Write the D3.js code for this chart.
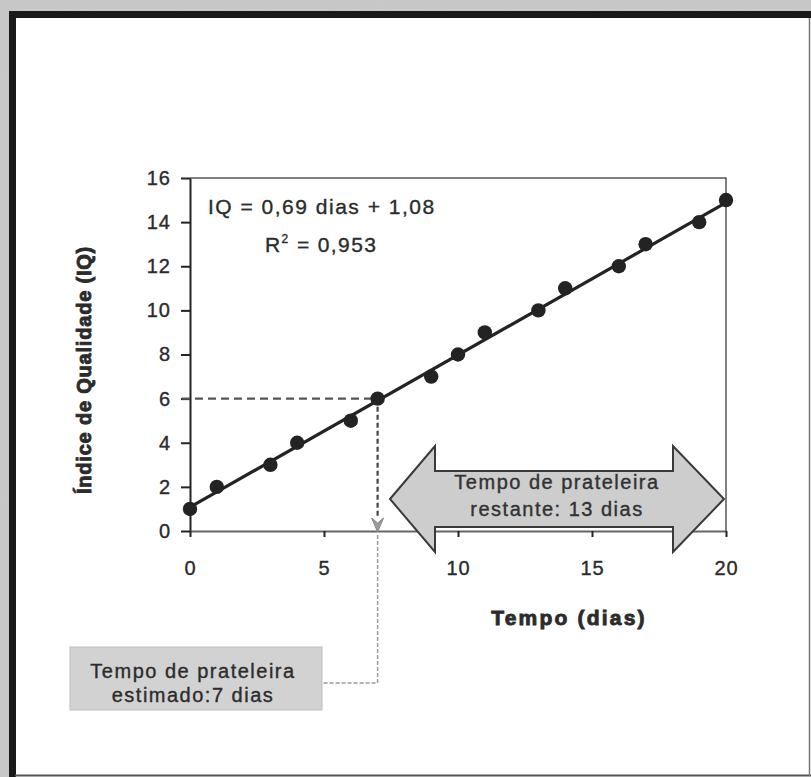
<!DOCTYPE html>
<html>
<head>
<meta charset="utf-8">
<script src="https://cdn.jsdelivr.net/npm/d3@7"></script>
<style>
  body { margin: 0; background: #c6c6c6; }
  svg { display: block; font-family: "Liberation Sans", Arial, sans-serif; }
</style>
</head>
<body>
<div id="chart"></div>
<script>
// data
var dias = [0, 1, 3, 4, 6, 7, 9, 10, 11, 13, 14, 16, 17, 19, 20]
var iq   = [1, 2, 3, 4, 5, 6, 7, 8, 9, 10, 11, 12, 13, 14, 15]
var xTicks = [0, 5, 10, 15, 20]
var yTicks = [0, 2, 4, 6, 8, 10, 12, 14, 16]
var slope = 0.69, intercept = 1.08
var estimado = 7, iqLimite = 6

var W = 811, H = 777

var svg = d3.select("#chart").append("svg")
    .attr("width", W).attr("height", H)

// speckled paper background
var defs = svg.append("defs")
var f = defs.append("filter").attr("id", "grain").attr("x", 0).attr("y", 0).attr("width", "100%").attr("height", "100%")
f.append("feTurbulence").attr("type", "fractalNoise").attr("baseFrequency", 0.9).attr("numOctaves", 2).attr("seed", 3)
f.append("feColorMatrix").attr("type", "matrix")
    .attr("values", "0 0 0 0 0.5  0 0 0 0 0.5  0 0 0 0 0.5  0 0 0 1.2 -0.35")
f.append("feComposite").attr("in2", "SourceGraphic").attr("operator", "in")

svg.append("rect").attr("width", W).attr("height", H).attr("fill", "#c9c9c9")
svg.append("rect").attr("width", W).attr("height", H).attr("fill", "#c9c9c9").attr("filter", "url(#grain)").attr("opacity", 0.5)

// white card with black frame
svg.append("rect").attr("x", 12.5).attr("y", 14.5).attr("width", 820).attr("height", 780)
    .attr("fill", "#fff").attr("stroke", "#1a1a1a").attr("stroke-width", 7)
svg.append("line").attr("x1", 15).attr("x2", W).attr("y1", 775.5).attr("y2", 775.5)
    .attr("stroke", "#555").attr("stroke-width", 2)
svg.append("line").attr("x1", 809.5).attr("x2", 809.5).attr("y1", 18).attr("y2", 776)
    .attr("stroke", "#777").attr("stroke-width", 1.5)

var x = d3.scaleLinear().domain([0, 20]).range([190, 726])
var y = d3.scaleLinear().domain([0, 16]).range([531, 178])

var ink = "#232323"
var txt = "#2b2b2b"

// helper for the slightly heavy, wide scanned lettering
function label(sel, size, spacing, bold) {
    return sel.style("font-size", size + "px")
        .style("letter-spacing", spacing + "px")
        .style("font-weight", bold ? "bold" : "normal")
        .attr("fill", txt).attr("stroke", txt).attr("stroke-width", bold ? 0.9 : 0.35)
}

// plot border (top / right)
svg.append("path")
    .attr("d", "M" + x(0) + "," + y(16) + "H" + x(20) + "V" + y(0))
    .attr("fill", "none").attr("stroke", "#555").attr("stroke-width", 1.5)

// axes
var gy = svg.append("g").attr("transform", "translate(" + x(0) + ",0)")
    .call(d3.axisLeft(y).tickValues(yTicks).tickSize(9).tickPadding(10).tickSizeOuter(0))
var gx = svg.append("g").attr("transform", "translate(0," + y(0) + ")")
    .call(d3.axisBottom(x).tickValues(xTicks).tickSize(6).tickPadding(24).tickSizeOuter(0))
;[gx, gy].forEach(function(g){
    g.select(".domain").attr("stroke", ink).attr("stroke-width", 2)
    g.selectAll(".tick line").attr("stroke", ink).attr("stroke-width", 2)
    label(g.selectAll(".tick text"), 20, 1, false)
        .style("font-family", "'Liberation Sans', Arial, sans-serif")
})
gx.select(".domain").attr("stroke", "#666")

// dashed guides to the limit
svg.append("line")
    .attr("x1", x(0) - 8).attr("x2", x(estimado)).attr("y1", y(iqLimite)).attr("y2", y(iqLimite))
    .attr("stroke", "#555").attr("stroke-width", 2.2).attr("stroke-dasharray", "8,5")
svg.append("line")
    .attr("x1", x(estimado)).attr("x2", x(estimado)).attr("y1", y(iqLimite)).attr("y2", y(0) - 14)
    .attr("stroke", "#444").attr("stroke-width", 2.2).attr("stroke-dasharray", "5,3")

// light connector down to the estimate box
svg.append("path")
    .attr("d", "M" + x(estimado) + "," + (y(0) + 4) + "V683H322")
    .attr("fill", "none").attr("stroke", "#9a9a9a").attr("stroke-width", 1.5).attr("stroke-dasharray", "4,2")
// small grey arrowhead on the axis
svg.append("path")
    .attr("d", "M" + (x(estimado) - 6) + "," + (y(0) - 13) + "L" + x(estimado) + "," + (y(0) - 8) +
          "L" + (x(estimado) + 6) + "," + (y(0) - 13) + "L" + x(estimado) + "," + (y(0) + 1) + "Z")
    .attr("fill", "#9c9c9c").attr("stroke", "#8a8a8a").attr("stroke-width", 1)

// regression line
var fit = [0, 20].map(function(d){ return [d, slope * d + intercept] })
svg.append("path")
    .attr("d", d3.line().x(function(d){ return x(d[0]) }).y(function(d){ return y(d[1]) })(fit))
    .attr("fill", "none").attr("stroke", ink).attr("stroke-width", 3.2)

// points
svg.append("g").selectAll("circle")
    .data(dias.map(function(d, i){ return {x: d, y: iq[i]} }))
    .join("circle")
    .attr("cx", function(d){ return x(d.x) })
    .attr("cy", function(d){ return y(d.y) })
    .attr("r", 7.2)
    .attr("fill", ink)

// equation
label(svg.append("text").attr("x", 208).attr("y", 214), 21, 1.5, false)
    .text("IQ = 0,69 dias + 1,08")
var r2 = label(svg.append("text").attr("x", 265).attr("y", 252), 21, 1.4, false)
r2.append("tspan").text("R")
r2.append("tspan").attr("dy", -9).style("font-size", "12px").text("2")
r2.append("tspan").attr("dy", 9).text(" = 0,953")

// double arrow: remaining shelf life
var ay = 499, bodyH = 28, headH = 53
var aL = 390, aLb = 435, aRb = 673, aR = 724
var arrowPts = [
    [aL, ay], [aLb, ay - headH], [aLb, ay - bodyH], [aRb, ay - bodyH], [aRb, ay - headH],
    [aR, ay], [aRb, ay + headH], [aRb, ay + bodyH], [aLb, ay + bodyH], [aLb, ay + headH]
]
svg.append("path")
    .attr("d", "M" + arrowPts.join("L") + "Z")
    .attr("fill", "#cdcdcd").attr("stroke", "#3a3a3a").attr("stroke-width", 2)
    .attr("stroke-linejoin", "miter")
label(svg.append("text").attr("x", 557).attr("y", 489).attr("text-anchor", "middle"), 20, 1.5, false)
    .attr("fill", "#333").text("Tempo de prateleira")
label(svg.append("text").attr("x", 557).attr("y", 516).attr("text-anchor", "middle"), 20, 1.5, false)
    .attr("fill", "#333").text("restante: 13 dias")

// estimate box
svg.append("rect").attr("x", 70).attr("y", 647).attr("width", 252).attr("height", 63)
    .attr("fill", "#d2d2d2").attr("stroke", "#bdbdbd").attr("stroke-width", 1)
label(svg.append("text").attr("x", 193).attr("y", 678).attr("text-anchor", "middle"), 20, 1.5, false)
    .text("Tempo de prateleira")
label(svg.append("text").attr("x", 193).attr("y", 702).attr("text-anchor", "middle"), 20, 1.5, false)
    .text("estimado:7 dias")

// axis titles
label(svg.append("text").attr("x", 569).attr("y", 625).attr("text-anchor", "middle"), 21, 2.2, true)
    .text("Tempo (dias)")
label(svg.append("text").attr("transform", "translate(91,370) rotate(-90)").attr("text-anchor", "middle"), 20, 0.8, true)
    .text("Índice de Qualidade (IQ)")
</script>
</body>
</html>
